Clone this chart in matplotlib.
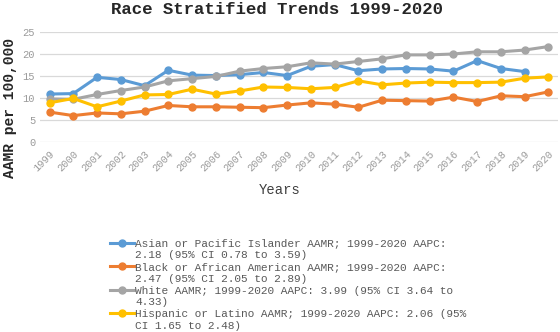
import matplotlib
matplotlib.use('Agg')
import matplotlib.pyplot as plt
from matplotlib.lines import Line2D

# Data
years = list(range(1999, 2021))
asian = [10.9, 11.0, 14.7, 14.2, 12.8, 16.3, 15.2, 15.1, 15.3, 15.8, 15.1,
         17.2, 17.6, 16.2, 16.6, 16.7, 16.6, 16.1, 18.5, 16.7, 16.0]
black = [6.8, 6.0, 6.6, 6.4, 7.0, 8.3, 8.0, 8.0, 7.9, 7.8, 8.4,
         8.9, 8.6, 7.9, 9.5, 9.4, 9.3, 10.2, 9.2, 10.5, 10.3, 11.4]
white = [9.8, 9.7, 10.8, 11.7, 12.5, 13.9, 14.4, 14.9, 16.1, 16.7, 17.1,
         18.0, 17.7, 18.3, 18.9, 19.8, 19.8, 20.0, 20.5, 20.5, 20.9, 21.7]
hispanic = [8.9, 9.9, 8.0, 9.3, 10.7, 10.8, 12.0, 10.9, 11.6, 12.5, 12.4,
            12.1, 12.4, 13.9, 13.0, 13.4, 13.6, 13.5, 13.5, 13.6, 14.5, 14.8]

labels = [
    ("Asian or Pacific Islander AAMR; 1999-2020 AAPC:", "2.18 (95% CI 0.78 to 3.59)"),
    ("Black or African American AAMR; 1999-2020 AAPC:", "2.47 (95% CI 2.05 to 2.89)"),
    ("White AAMR; 1999-2020 AAPC: 3.99 (95% CI 3.64 to", "4.33)"),
    ("Hispanic or Latino AAMR; 1999-2020 AAPC: 2.06 (95%", "CI 1.65 to 2.48)"),
]
colors = ['#5B9BD5', '#ED7D31', '#A5A5A5', '#FFC000']

plt.rcParams['font.family'] = ['Liberation Mono', 'DejaVu Sans Mono']

fig = plt.figure(figsize=(5.6, 3.32), dpi=100)
ax = fig.add_axes([40 / 560, 1 - 142 / 332, 518 / 560, 110 / 332])

series = [(years[:len(asian)], asian), (years, black), (years, white), (years, hispanic)]
for (x, y), c in zip(series, colors):
    ax.plot(x, y, color=c, lw=2.2, marker='o', ms=5, zorder=3)

ax.set_ylim(0, 25)
ax.set_yticks([0, 5, 10, 15, 20, 25])
ax.set_xlim(1998.6, 2020.4)
ax.set_xticks(years)
ax.set_xticklabels([str(y) for y in years], rotation=45, ha='right',
                   rotation_mode='anchor')
ax.tick_params(axis='both', length=0, colors='#9a9a9a', labelsize=7.5)
ax.tick_params(axis='x', pad=5)
ax.grid(axis='y', color='#d9d9d9', lw=0.9)
ax.set_axisbelow(True)
for s in ax.spines.values():
    s.set_visible(False)

fig.text(0.495, 1 - 9.5 / 332, 'Race Stratified Trends 1999-2020', ha='center', va='center',
         fontsize=12.5, fontweight='bold', color='#262626')
fig.text(0.017, 1 - 108 / 332, 'AAMR per 100,000', rotation=90,
         ha='center', va='center', fontsize=10.5, fontweight='bold', color='#262626')
fig.text(0.5, 1 - 190 / 332, 'Years', ha='center', va='center',
         fontsize=10, color='#404040')

# legend: first line with handle, continuation line with blank handle
handles, texts = [], []
for c, (l1, l2) in zip(colors, labels):
    handles.append(Line2D([], [], color=c, lw=2.2, marker='o', ms=5))
    texts.append(l1)
    handles.append(Line2D([], [], color='none'))
    texts.append(l2)
leg = fig.legend(handles, texts, loc='upper left',
                 bbox_to_anchor=(104 / 560, 1 - 233 / 332),
                 frameon=False, fontsize=8, labelspacing=0.16,
                 handlelength=2.2, handletextpad=0.1, borderpad=0,
                 labelcolor='#595959')

fig.savefig('out.png', dpi=100)
